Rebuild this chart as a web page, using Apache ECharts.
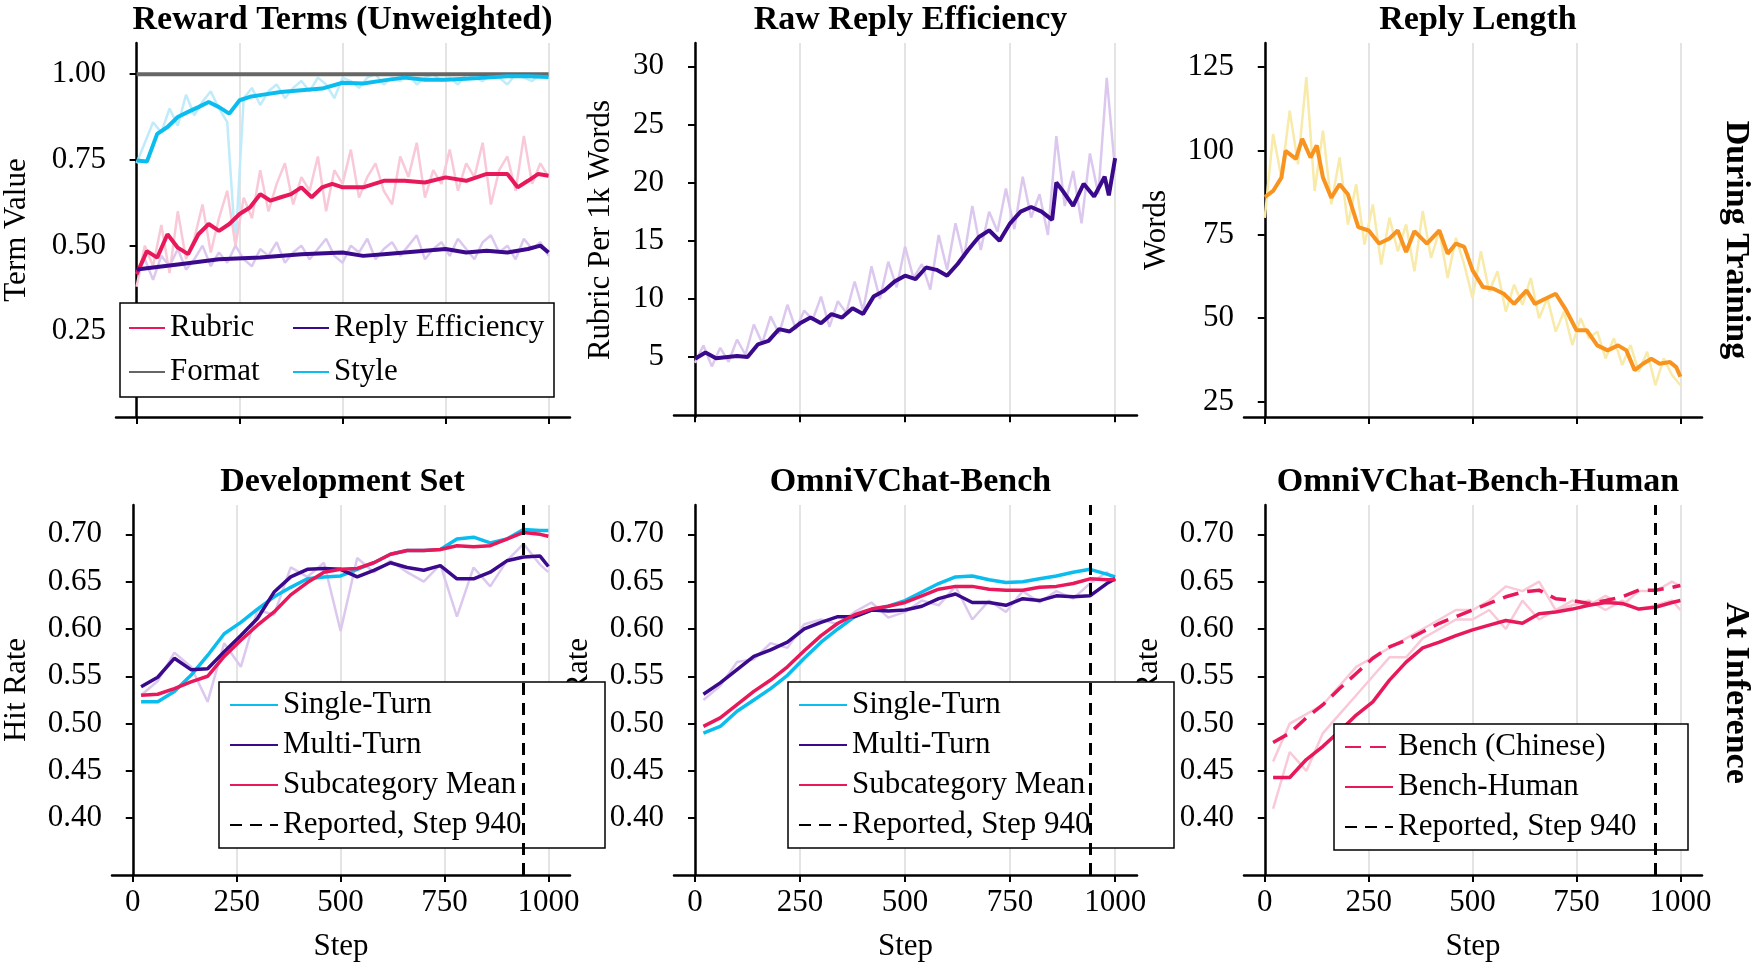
<!DOCTYPE html>
<html><head><meta charset="utf-8">
<script src="https://cdn.jsdelivr.net/npm/echarts@6/dist/echarts.min.js"></script>
<style>html,body{margin:0;padding:0;background:#fff}#c{width:1760px;height:963px}</style>
</head><body><div id="c"></div>
<script>
// ---------- DATA ----------
const xTicks = [0, 250, 500, 750, 1000];
const rawStepSize = 20; // raw (faint) top-row samples every 20 steps from 0
// Panel 1: Reward terms
const styleSteps = [0,25,50,75,100,125,150,175,200,225,250,275,300,350,400,450,500,550,600,650,700,750,800,850,900,950,1000];
const styleSmooth = [.748,.745,.826,.846,.875,.890,.904,.919,.904,.885,.924,.934,.939,.948,.953,.958,.975,.973,.982,.990,.984,.984,.987,.990,.994,.994,.992];
const rubricSteps = [0,25,50,75,100,125,150,175,200,225,250,275,300,325,350,375,400,425,450,475,500,550,600,650,700,750,800,850,900,925,950,975,1000];
const rubricSmooth = [.416,.484,.465,.533,.494,.475,.533,.563,.543,.563,.592,.611,.650,.631,.641,.650,.670,.641,.670,.680,.670,.670,.689,.689,.684,.699,.689,.709,.709,.670,.689,.709,.704];
const effSteps = [0,100,200,300,400,500,550,600,700,750,800,850,900,950,980,1000];
const effSmooth = [.43,.445,.46,.465,.475,.48,.47,.475,.485,.49,.48,.485,.48,.49,.50,.48];
const formatSteps = [0, 1000];
const formatVals = [1.0, 1.0];
const styleRaw = [.74,.80,.86,.83,.90,.85,.94,.88,.92,.95,.90,.86,.50,.93,.96,.91,.95,.97,.93,.96,.98,.95,.99,.97,.93,.99,.98,.96,.99,1.0,.97,.99,.98,1.0,.97,.99,1.0,.98,.99,.97,1.0,.99,.98,1.0,.99,.97,1.0,.99,.98,1.0,.99];
const rubricRaw = [.38,.50,.44,.56,.42,.60,.46,.52,.62,.48,.58,.66,.50,.64,.58,.72,.60,.68,.74,.62,.70,.66,.76,.60,.72,.68,.78,.64,.70,.74,.66,.62,.76,.70,.80,.64,.72,.68,.78,.66,.74,.70,.80,.62,.72,.76,.66,.82,.68,.74,.70];
const effRaw = [.42,.46,.40,.47,.44,.49,.43,.46,.50,.44,.48,.45,.50,.46,.44,.49,.47,.51,.45,.48,.50,.46,.49,.52,.47,.45,.50,.48,.52,.46,.49,.51,.47,.50,.53,.46,.49,.51,.47,.52,.49,.46,.51,.53,.48,.50,.46,.52,.49,.51,.47];
// Panel 2: Raw reply efficiency
const rreSteps = [0,25,50,100,125,150,175,200,225,250,275,300,325,350,375,400,425,450,475,500,525,550,575,600,625,650,675,700,725,750,775,800,825,850,860,875,900,925,950,975,985,1000];
const rreSmooth = [4.86,5.4,4.9,5.1,5.0,6.1,6.4,7.4,7.2,7.9,8.4,7.9,8.7,8.4,9.2,8.7,10.2,10.7,11.5,12.0,11.7,12.7,12.5,12.0,13.0,14.2,15.3,15.9,15.0,16.5,17.5,17.9,17.5,16.8,20.0,19.3,18.0,19.9,18.8,20.5,18.9,22.1];
const rreRaw = [4.5,6,4.2,5.8,4.6,6.5,5.2,7.8,6.2,8.5,7,9.5,7.4,9,8.2,10.2,7.6,9.8,8.8,11.5,9,12.8,10,13.2,11,14.5,11.8,13,10.8,15.5,12.5,16.5,13.5,18,14.2,17.5,15.8,19.5,16,20.5,17,19,15.5,24,18,21,16.5,22.5,19,29,21];
// Panel 3: Reply length
const lenSteps = [0,20,40,50,75,90,110,125,140,160,180,200,225,250,275,300,320,340,360,390,420,440,460,480,500,525,550,575,600,630,650,675,700,725,750,775,800,825,850,870,890,910,930,950,975,990,1000];
const lenSmooth = [86.2,88,92,100,97.6,103.6,98,101.6,92,86,90,87,77.2,76.2,72.3,73.8,76.2,69.8,76,72.3,76.2,69.3,72.3,71.3,64.3,59.3,58.8,57.3,54.3,58.3,54.3,55.8,57.3,52.4,46.4,46.4,41.9,40.4,41.9,40.4,34.5,36.4,37.9,36.4,36.9,35.4,32.5];
const lenRaw = [80,105,92,112,96,122,88,106,84,98,78,90,72,84,66,80,70,78,64,82,68,76,62,74,66,56,70,58,64,52,60,54,62,50,56,46,52,42,50,44,46,38,44,36,42,34,40,30,38,33,30];
// Bottom row (inference)
const infSteps = [20,60,100,140,180,220,260,300,340,380,420,460,500,540,580,620,660,700,740,780,820,860,900,940,980,1000];
const reportedStep = 940;
const devSingle = [.523,.523,.534,.551,.572,.595,.607,.621,.634,.644,.653,.655,.656,.663,.670,.679,.683,.683,.684,.695,.697,.691,.695,.705,.704,.704];
const devSub = [.530,.531,.537,.544,.550,.571,.588,.604,.618,.636,.649,.660,.663,.664,.670,.679,.683,.683,.684,.688,.687,.688,.695,.702,.700,.698];
const devMulti = [.539,.549,.569,.557,.558,.576,.593,.611,.639,.655,.663,.664,.663,.655,.662,.670,.665,.662,.667,.653,.653,.660,.672,.676,.677,.666];
const devMultiRaw = [.530,.545,.575,.560,.523,.585,.560,.620,.615,.665,.655,.670,.598,.675,.660,.672,.660,.650,.668,.613,.665,.645,.672,.690,.668,.660];
const benSingle = [.490,.497,.513,.525,.537,.551,.569,.586,.600,.613,.620,.624,.630,.639,.648,.655,.656,.652,.649,.650,.653,.656,.660,.663,.658,.655];
const benSub = [.497,.506,.520,.534,.546,.560,.577,.593,.606,.615,.621,.624,.628,.635,.642,.645,.645,.642,.641,.641,.644,.645,.648,.653,.652,.652];
const benMulti = [.531,.543,.557,.571,.578,.586,.600,.607,.613,.613,.620,.619,.620,.624,.632,.637,.628,.628,.625,.632,.630,.635,.634,.635,.648,.653];
const benMultiRaw = [.525,.540,.565,.568,.585,.580,.605,.610,.605,.618,.628,.612,.618,.630,.625,.645,.610,.630,.618,.640,.628,.640,.632,.648,.660,.650];
const humChinese = [.480,.490,.506,.520,.537,.553,.569,.581,.588,.597,.606,.613,.620,.627,.634,.639,.641,.632,.630,.627,.630,.634,.641,.641,.644,.646];
const humHuman = [.443,.443,.462,.476,.492,.509,.523,.546,.565,.580,.586,.593,.599,.604,.609,.606,.616,.618,.621,.625,.628,.627,.621,.623,.628,.630];
const humChineseRaw = [.46,.50,.51,.52,.54,.56,.57,.58,.59,.60,.61,.62,.62,.63,.645,.64,.65,.62,.63,.625,.635,.625,.64,.64,.65,.645];
const humHumanRaw = [.41,.47,.45,.49,.51,.53,.55,.57,.57,.59,.60,.61,.61,.62,.60,.63,.61,.62,.625,.63,.62,.63,.62,.625,.63,.62];
const yTicks1 = [0.25, 0.5, 0.75, 1.0];
const yTicks2 = [5, 10, 15, 20, 25, 30];
const yTicks3 = [25, 50, 75, 100, 125];
const yTicksInf = [0.40, 0.45, 0.50, 0.55, 0.60, 0.65, 0.70];

// ---------- STYLE ----------
const C = {rubric:'#E8195A', eff:'#3B0A8C', format:'#666666', style:'#0BBDEE', orange:'#F7931E',
  rubricF:'#F9C9D8', effF:'#DCC8EE', styleF:'#BFEBFA', orangeF:'#F8EAA8', multiF:'#DCC8EE', pinkF:'#F9C9D8'};
const FONT = 'Liberation Serif';
const pairs = (xs, ys) => ys.map((v, i) => [xs[i], v]).filter(p => p[0] !== undefined);
const rawPairs = ys => ys.map((v, i) => [i * rawStepSize, v]);

const cols = [[105, 570], [674, 1137], [1244, 1702]];
const rows = [[43, 417], [505, 881]];
const grids = [];
for (let r = 0; r < 2; r++) for (let c = 0; c < 3; c++)
  grids.push({left: cols[c][0], width: cols[c][1] - cols[c][0], top: rows[r][0], height: rows[r][1] - rows[r][0]});

const axLine = {show: true, lineStyle: {color: '#000', width: 2.5}};
const xAxes = grids.map((g, i) => ({
  type: 'value', gridIndex: i, min: -50, max: 1052,
  axisLine: axLine,
  axisTick: {show: true, length: 7, lineStyle: {color: '#000', width: 2}, customValues: xTicks},
  axisLabel: {show: i >= 3, customValues: xTicks, fontFamily: FONT, fontSize: 31, color: '#000', margin: 12, formatter: v => String(v)},
  splitLine: {show: true, lineStyle: {color: '#e4e4e4', width: 2}},
  name: i >= 3 ? 'Step' : '', nameLocation: 'middle', nameGap: 56,
  nameTextStyle: {fontFamily: FONT, fontSize: 31, color: '#000'}
}));
const nameGaps = [84, 58, 72, 80, 80, 80];
function yAx(i, min, max, ticks, name, fmt) {
  return {type: 'value', gridIndex: i, min, max,
    axisLine: axLine,
    axisTick: {show: true, length: 7, lineStyle: {color: '#000', width: 2}, customValues: ticks},
    axisLabel: {customValues: ticks, fontFamily: FONT, fontSize: 31, color: '#000', margin: 10, formatter: fmt},
    splitLine: {show: false},
    name, nameLocation: 'middle', nameGap: nameGaps[i],
    nameTextStyle: {fontFamily: FONT, fontSize: 31, color: '#000'}};
}
const f2 = v => v.toFixed(2);
const f0 = v => String(Math.round(v));
const yAxes = [
  yAx(0, 0, 1.091, yTicks1, 'Term Value', f2),
  yAx(1, -0.15, 32, yTicks2, 'Rubric Per 1k Words', f0),
  yAx(2, 20.5, 132.2, yTicks3, 'Words', f0),
  yAx(3, 0.34, 0.731, yTicksInf, 'Hit Rate', f2),
  yAx(4, 0.34, 0.731, yTicksInf, 'Hit Rate', f2),
  yAx(5, 0.34, 0.731, yTicksInf, 'Hit Rate', f2)
];

function line(name, i, data, color, width, extra) {
  return Object.assign({type: 'line', name, xAxisIndex: i, yAxisIndex: i, data, showSymbol: false, symbol: 'none',
    lineStyle: {color, width}, itemStyle: {color}, z: 3, animation: false, emphasis: {disabled: true}}, extra || {});
}
const series = [
  line('_sr', 0, rawPairs(styleRaw), C.styleF, 2.5, {z: 1}),
  line('_rr', 0, rawPairs(rubricRaw), C.rubricF, 2.5, {z: 1}),
  line('_er', 0, rawPairs(effRaw), C.effF, 2.5, {z: 1}),
  line('Format', 0, pairs(formatSteps, formatVals), C.format, 4),
  line('Style', 0, pairs(styleSteps, styleSmooth), C.style, 4),
  line('Rubric', 0, pairs(rubricSteps, rubricSmooth), C.rubric, 4),
  line('Reply Efficiency', 0, pairs(effSteps, effSmooth), C.eff, 4),
  line('_rre', 1, rawPairs(rreRaw), C.effF, 2.5, {z: 1}),
  line('RRE', 1, pairs(rreSteps, rreSmooth), C.eff, 4),
  line('_len', 2, rawPairs(lenRaw), C.orangeF, 2.5, {z: 1}),
  line('LEN', 2, pairs(lenSteps, lenSmooth), C.orange, 4),
];
function reported(i) {
  return line('Reported, Step 940', i, [], '#000', 3, {lineStyle: {color: '#000', width: 3, type: [12, 8]},
    markLine: {silent: true, symbol: 'none', label: {show: false}, animation: false,
      lineStyle: {color: '#000', width: 3, type: [12, 8]}, data: [{xAxis: reportedStep}]}});
}
[[3, devSingle, devMulti, devSub, devMultiRaw], [4, benSingle, benMulti, benSub, benMultiRaw]].forEach(([i, s, m, sb, mr]) => {
  series.push(line('_m' + i, i, pairs(infSteps, mr), C.multiF, 2.5, {z: 1}));
  series.push(line('Single-Turn', i, pairs(infSteps, s), C.style, 3.5));
  series.push(line('Multi-Turn', i, pairs(infSteps, m), C.eff, 3.5));
  series.push(line('Subcategory Mean', i, pairs(infSteps, sb), C.rubric, 3.5));
  series.push(reported(i));
});
series.push(line('_hc', 5, pairs(infSteps, humChineseRaw), C.pinkF, 2.5, {z: 1}));
series.push(line('_hh', 5, pairs(infSteps, humHumanRaw), C.pinkF, 2.5, {z: 1}));
series.push(line('Bench (Chinese)', 5, pairs(infSteps, humChinese), C.rubric, 3.5, {lineStyle: {color: C.rubric, width: 3.5, type: [16, 9]}}));
series.push(line('Bench-Human', 5, pairs(infSteps, humHuman), C.rubric, 3.5));
series.push(reported(5));

const titles = ['Reward Terms (Unweighted)', 'Raw Reply Efficiency', 'Reply Length', 'Development Set', 'OmniVChat-Bench', 'OmniVChat-Bench-Human']
  .map((t, i) => ({text: t, left: grids[i].left + grids[i].width / 2, top: grids[i].top - 45, textAlign: 'center',
    textStyle: {fontFamily: FONT, fontSize: 34, fontWeight: 'bold', color: '#000'}}));

const legBase = {orient: 'vertical', borderColor: '#000', borderWidth: 1.5, borderRadius: 0, backgroundColor: '#fff',
  itemWidth: 48, itemHeight: 14, itemGap: 6, padding: [6, 10], selectedMode: false,
  itemStyle: {opacity: 0},
  textStyle: {fontFamily: FONT, fontSize: 31, color: '#000', lineHeight: 34}};
const legend = [
  {orient: 'horizontal', left: 120, top: 303, width: 440, borderColor: '#000', borderWidth: 1.5, borderRadius: 0,
   backgroundColor: '#fff', itemWidth: 36, itemHeight: 14, itemGap: 10, padding: [8, 8], selectedMode: false,
   itemStyle: {opacity: 0},
   textStyle: {fontFamily: FONT, fontSize: 31, color: '#000', lineHeight: 34},
   data: [{name: 'Rubric', textStyle: {width: 112}}, {name: 'Reply Efficiency', textStyle: {width: 212}},
          {name: 'Format', textStyle: {width: 112}}, {name: 'Style', textStyle: {width: 212}}]},
  Object.assign({}, legBase, {left: 219, top: 682, textStyle: Object.assign({}, legBase.textStyle, {width: 312}),
    data: ['Single-Turn', 'Multi-Turn', 'Subcategory Mean', 'Reported, Step 940']}),
  Object.assign({}, legBase, {left: 788, top: 682, textStyle: Object.assign({}, legBase.textStyle, {width: 312}),
    data: ['Single-Turn', 'Multi-Turn', 'Subcategory Mean', 'Reported, Step 940']}),
  Object.assign({}, legBase, {left: 1334, top: 724, textStyle: Object.assign({}, legBase.textStyle, {width: 280}),
    data: ['Bench (Chinese)', 'Bench-Human', 'Reported, Step 940']})
];

const chart = echarts.init(document.getElementById('c'), null, {renderer: 'canvas'});
chart.setOption({
  animation: false, backgroundColor: '#fff',
  title: titles, grid: grids, xAxis: xAxes, yAxis: yAxes, series, legend,
  graphic: [
    {type: 'text', x: 1736, y: 240, rotation: -Math.PI / 2,
     style: {text: 'During Training', font: 'bold 34px "Liberation Serif"', fill: '#000', align: 'center', verticalAlign: 'middle'}},
    {type: 'text', x: 1736, y: 693, rotation: -Math.PI / 2,
     style: {text: 'At Inference', font: 'bold 34px "Liberation Serif"', fill: '#000', align: 'center', verticalAlign: 'middle'}}
  ]
});
</script></body></html>
